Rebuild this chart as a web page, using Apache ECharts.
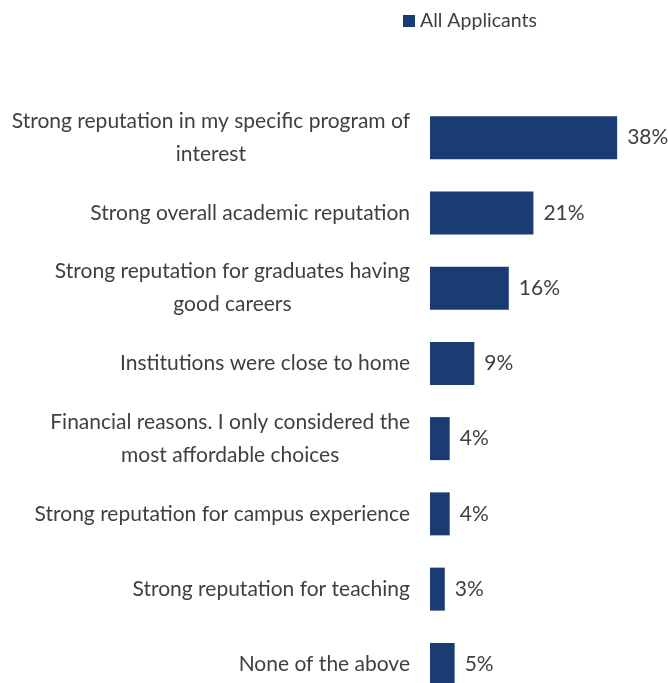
<!DOCTYPE html>
<html>
<head>
<meta charset="utf-8">
<script src="https://cdn.jsdelivr.net/npm/echarts@6/dist/echarts.min.js"></script>
<style>
  html, body { margin: 0; padding: 0; background: #ffffff; overflow: hidden; }
  /* the last row runs past the bottom edge of the view */
  #chart { width: 668px; height: 720px; }
</style>
</head>
<body>
<div id="chart"></div>
<script>
// Reasons for choosing institutions (share of all applicants, %)
const categories = [
  'Strong reputation in my specific program of\ninterest',
  'Strong overall academic reputation',
  'Strong reputation for graduates having\ngood careers',
  'Institutions were close to home',
  'Financial reasons. I only considered the\nmost affordable choices',
  'Strong reputation for campus experience',
  'Strong reputation for teaching',
  'None of the above'
];
const allApplicants = [38, 21, 16, 9, 4, 4, 3, 5];
const seriesName = 'All Applicants';

const FONT = 'Lato, "Open Sans", sans-serif';
const TEXT = '#3f3f3f';
const BAR = '#1b3c72';

const chart = echarts.init(document.getElementById('chart'), null, { renderer: 'canvas' });
chart.setOption({
  animation: false,
  backgroundColor: '#ffffff',
  legend: {
    data: [seriesName],
    left: 398,
    top: 6,
    icon: 'rect',
    itemWidth: 12,
    itemHeight: 12,
    itemGap: 8,
    textStyle: { fontFamily: FONT, fontSize: 19.5, color: TEXT }
  },
  grid: {
    left: 430,
    top: 100,
    width: 197,
    height: 602,
    containLabel: false
  },
  xAxis: {
    type: 'value',
    min: 0,
    max: 40,
    show: false
  },
  yAxis: {
    type: 'category',
    inverse: true,
    data: categories,
    axisLine: { show: false },
    axisTick: { show: false },
    splitLine: { show: false },
    axisLabel: {
      margin: 20,
      fontFamily: FONT,
      fontSize: 21,
      color: TEXT,
      formatter: function (v) { return '{c|' + v + '}'; },
      rich: {
        c: { align: 'center', fontFamily: FONT, fontSize: 21, color: TEXT, lineHeight: 33 }
      }
    }
  },
  series: [{
    name: seriesName,
    type: 'bar',
    data: allApplicants,
    barWidth: 43,
    itemStyle: { color: BAR },
    label: {
      show: true,
      position: 'right',
      distance: 10,
      fontFamily: FONT,
      fontSize: 21,
      color: TEXT,
      formatter: '{c}%'
    }
  }]
});
</script>
</body>
</html>
